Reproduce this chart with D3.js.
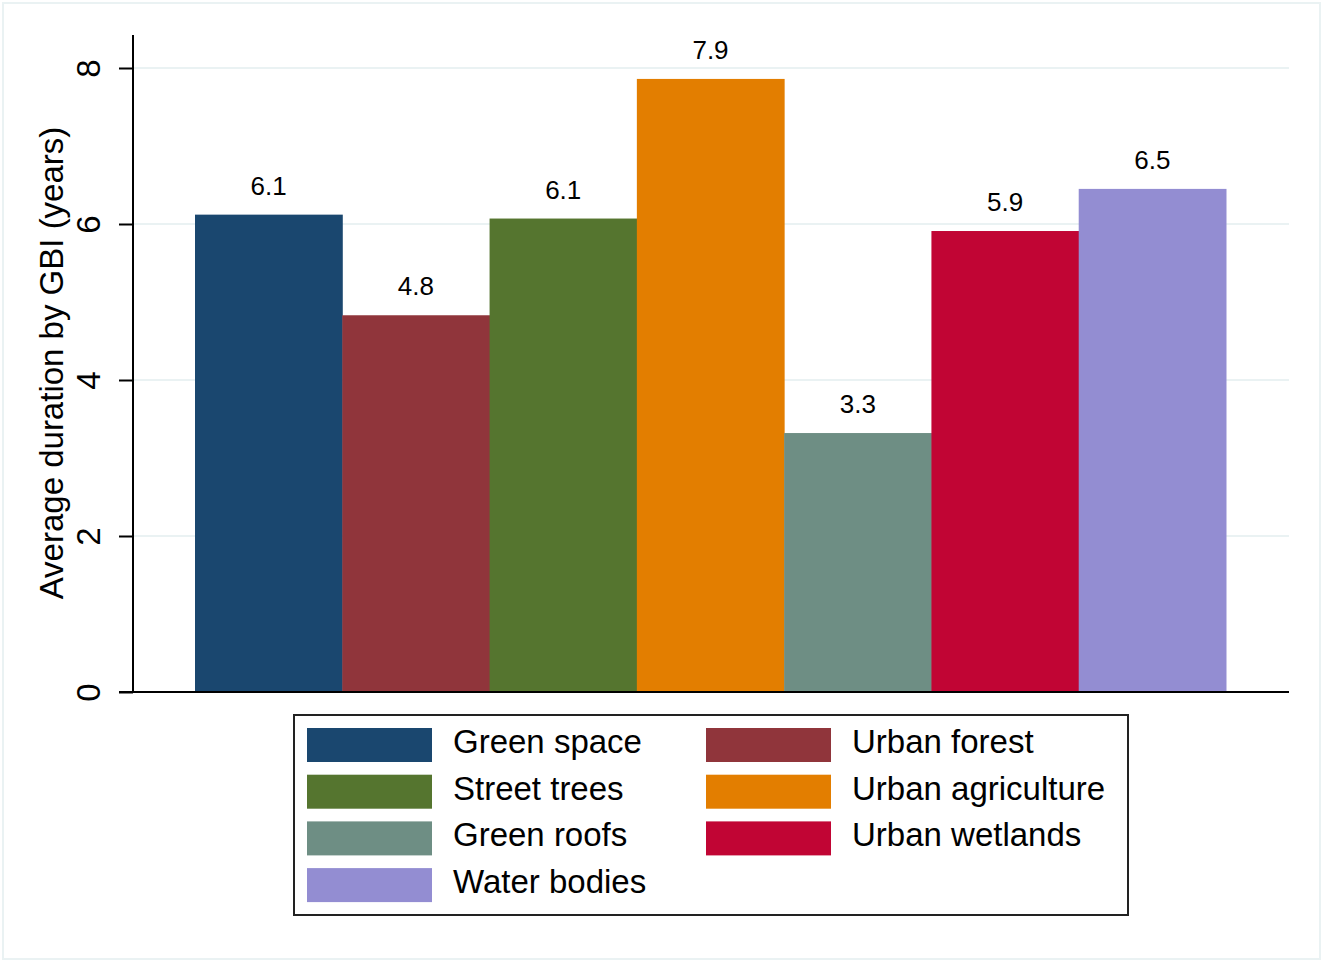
<!DOCTYPE html>
<html><head><meta charset="utf-8">
<script src="https://cdn.jsdelivr.net/npm/d3@7"></script>
<style>body{margin:0;background:#fff}svg{display:block}text{font-family:Arial,"Liberation Sans",sans-serif;fill:#000}</style>
</head><body>
<script>
const categories = ["Green space","Urban forest","Street trees","Urban agriculture","Green roofs","Urban wetlands","Water bodies"];
const values = [6.12,4.83,6.07,7.86,3.32,5.91,6.45];
const colors = ["#1a476f","#90353b","#55752f","#e37e00","#6e8e84","#c10534","#938dd2"];
const yTicks = [0,2,4,6,8];
const yTitle = "Average duration by GBI (years)";
// legend order (row-major, two columns)
const legendOrder = ["Green space","Urban forest","Street trees","Urban agriculture","Green roofs","Urban wetlands","Water bodies"];

const W=1322,H=961;
const svg=d3.select("body").append("svg").attr("width",W).attr("height",H);
svg.append("rect").attr("x",3).attr("y",3).attr("width",1317).attr("height",956).attr("fill","#fff").attr("stroke","#eaf2f3").attr("stroke-width",2);

const x=d3.scaleBand().domain(categories).range([195,1226]).padding(0);
const y=d3.scaleLinear().domain([0,8]).range([692,68]);

// gridlines
svg.append("g").selectAll("line").data(yTicks.filter(t=>t>0)).join("line")
 .attr("x1",134).attr("x2",1289).attr("y1",d=>y(d)).attr("y2",d=>y(d))
 .attr("stroke","#eaf2f3").attr("stroke-width",2);

// bars
svg.append("g").selectAll("rect").data(categories).join("rect")
 .attr("x",d=>x(d)).attr("width",x.bandwidth()+0.5)
 .attr("y",(d,i)=>y(values[i])).attr("height",(d,i)=>y(0)-y(values[i]))
 .attr("fill",(d,i)=>colors[i]);

// value labels
svg.append("g").selectAll("text").data(categories).join("text")
 .attr("x",d=>x(d)+x.bandwidth()/2).attr("y",(d,i)=>y(values[i])-20)
 .attr("text-anchor","middle").attr("font-size",26)
 .text((d,i)=>values[i].toFixed(1));

// y axis
const ax=svg.append("g").attr("transform","translate(133,0)")
 .call(d3.axisLeft(y).tickValues(yTicks).tickSize(14).tickFormat(d3.format("d")));
ax.select(".domain").remove();
ax.selectAll(".tick line").attr("stroke","#000").attr("stroke-width",2);
ax.selectAll(".tick text").attr("font-size",33).attr("text-anchor","middle")
 .attr("x",0).attr("y",0).attr("dy",0)
 .attr("transform","translate(-33,0) rotate(-90)");
svg.append("line").attr("x1",133).attr("x2",133).attr("y1",35).attr("y2",693).attr("stroke","#000").attr("stroke-width",2);
svg.append("line").attr("x1",119).attr("x2",1289).attr("y1",692).attr("y2",692).attr("stroke","#000").attr("stroke-width",2);

// y title
svg.append("text").attr("transform","translate(63,363) rotate(-90)").attr("text-anchor","middle").attr("font-size",33).text(yTitle);

// legend
const lg=svg.append("g");
lg.append("rect").attr("x",294).attr("y",715).attr("width",834).attr("height",200).attr("fill","#fff").attr("stroke","#222").attr("stroke-width",2);
const items=lg.selectAll("g").data(legendOrder).join("g")
 .attr("transform",(d,i)=>`translate(${i%2===0?307:706},${728+Math.floor(i/2)*46.7})`);
items.append("rect").attr("width",125).attr("height",34).attr("fill",d=>colors[categories.indexOf(d)]);
items.append("text").attr("x",146).attr("y",25).attr("font-size",33).text(d=>d);
</script>
</body></html>
